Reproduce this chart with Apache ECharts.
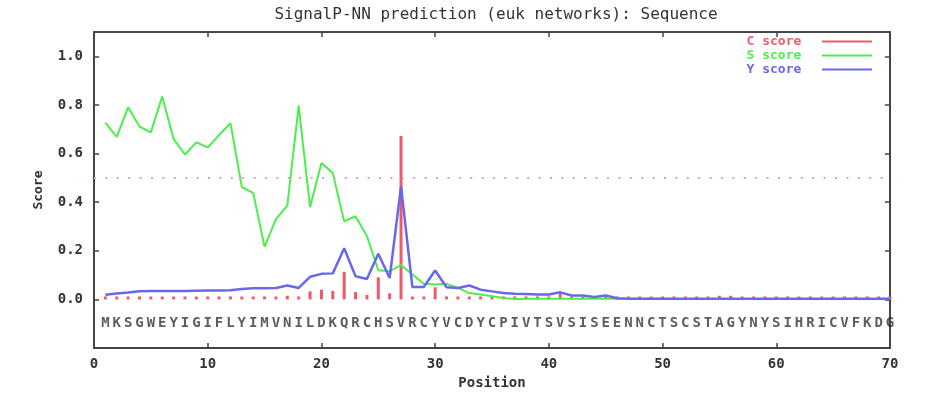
<!DOCTYPE html>
<html>
<head>
<meta charset="utf-8">
<title>SignalP-NN prediction</title>
<script src="https://cdn.jsdelivr.net/npm/echarts@6/dist/echarts.min.js"></script>
<style>
  html, body { margin: 0; padding: 0; background: #fff; }
  #chart { width: 944px; height: 416px; }
</style>
</head>
<body>
<div id="chart"></div>
<script>
// SignalP-NN scores per sequence position
const sequence = 'MKSGWEYIGIFLYIMVNILDKQRCHSVRCYVCDYCPIVTSVSISEENNCTSCSTAGYNYSIHRICVFKDG'.split('');

const cScore = [
  0.012, 0.012, 0.012, 0.012, 0.012, 0.012, 0.012, 0.012, 0.012, 0.012,
  0.012, 0.012, 0.012, 0.012, 0.012, 0.012, 0.015, 0.012, 0.033, 0.04,
  0.035, 0.113, 0.03, 0.018, 0.091, 0.025, 0.672, 0.012, 0.012, 0.05,
  0.012, 0.012, 0.012, 0.012, 0.012, 0.012, 0.012, 0.012, 0.012, 0.012,
  0.026, 0.012, 0.012, 0.012, 0.012, 0.012, 0.012, 0.012, 0.012, 0.012,
  0.012, 0.012, 0.012, 0.012, 0.015, 0.015, 0.012, 0.012, 0.012, 0.012,
  0.012, 0.012, 0.012, 0.012, 0.012, 0.012, 0.012, 0.012, 0.012, 0.012
];

const sScore = [
  0.727, 0.669, 0.79, 0.711, 0.687, 0.835, 0.66, 0.596, 0.646, 0.625,
  0.676, 0.725, 0.462, 0.438, 0.216, 0.33, 0.386, 0.797, 0.379, 0.561,
  0.52, 0.321, 0.342, 0.261, 0.12, 0.116, 0.141, 0.102, 0.064, 0.061,
  0.064, 0.047, 0.026, 0.02, 0.013, 0.006, 0.002, 0.003, 0.003, 0.003,
  0.003, 0.003, 0.003, 0.003, 0.003, 0.003, 0.003, 0.003, 0.003, 0.003,
  0.002, 0.002, 0.002, 0.002, 0.002, 0.002, 0.002, 0.002, 0.002, 0.002,
  0.002, 0.002, 0.002, 0.002, 0.002, 0.002, 0.002, 0.002, 0.002, 0.002
];

const yScore = [
  0.019, 0.024, 0.028, 0.033, 0.034, 0.034, 0.034, 0.034, 0.036, 0.037,
  0.037, 0.038, 0.043, 0.046, 0.046, 0.047, 0.057, 0.047, 0.093, 0.105,
  0.107, 0.21, 0.095, 0.084, 0.188, 0.088, 0.465, 0.051, 0.051, 0.119,
  0.05, 0.047, 0.057, 0.04, 0.033, 0.026, 0.023, 0.022, 0.02, 0.02,
  0.029, 0.016, 0.016, 0.01, 0.016, 0.005, 0.003, 0.003, 0.003, 0.003,
  0.003, 0.003, 0.003, 0.003, 0.003, 0.003, 0.003, 0.003, 0.003, 0.003,
  0.003, 0.003, 0.003, 0.003, 0.003, 0.003, 0.003, 0.003, 0.003, 0.003
];

const threshold = 0.5;
const letterRow = -0.1;

const xTicks = { min: 0, max: 70, interval: 10 };
const yTicks = { min: -0.2, max: 1.1, interval: 0.2 };

const pos = (arr) => arr.map((v, i) => [i + 1, v]);

const mono = 'DejaVu Sans Mono';
const axisColor = '#444';
const textColor = '#333';
const colors = { c: '#ee5a6a', s: '#4cee4c', y: '#6868ec' };

const chart = echarts.init(document.getElementById('chart'));

const baseX = {
  type: 'value',
  min: xTicks.min, max: xTicks.max, interval: xTicks.interval,
  splitLine: { show: false },
  axisLine: { show: true, onZero: false, lineStyle: { color: axisColor, width: 2 } },
  axisTick: { show: true, inside: true, length: 5, lineStyle: { color: axisColor, width: 1.5 } }
};
const baseY = {
  type: 'value',
  min: yTicks.min, max: yTicks.max, interval: yTicks.interval,
  splitLine: { show: false },
  axisLine: { show: true, onZero: false, lineStyle: { color: axisColor, width: 2 } },
  axisTick: { show: true, inside: true, length: 5, lineStyle: { color: axisColor, width: 1.5 } }
};

const option = {
  animation: false,
  backgroundColor: '#fff',
  title: {
    text: 'SignalP-NN prediction (euk networks): Sequence',
    left: 491, top: 2, textAlign: 'center',
    textStyle: { fontFamily: mono, fontSize: 16, fontWeight: 'normal', color: textColor }
  },
  legend: {
    right: 72, top: 35,
    padding: 0,
    orient: 'vertical',
    align: 'right',
    icon: 'rect',
    itemWidth: 50, itemHeight: 2, itemGap: 1,
    formatter: (name) => name + '  ',
    data: [
      { name: 'C score', textStyle: { color: colors.c } },
      { name: 'S score', textStyle: { color: colors.s } },
      { name: 'Y score', textStyle: { color: colors.y } }
    ],
    textStyle: { fontFamily: mono, fontSize: 13, lineHeight: 13, fontWeight: 'bold' }
  },
  grid: { left: 94, right: 54, top: 32, bottom: 68 },
  xAxis: [
    Object.assign({}, baseX, {
      position: 'bottom',
      name: 'Position', nameLocation: 'middle', nameGap: 25,
      nameTextStyle: { fontFamily: mono, fontSize: 14, fontWeight: 'bold', color: textColor },
      axisLabel: { margin: 9, fontFamily: mono, fontSize: 14, fontWeight: 'bold', color: textColor }
    }),
    Object.assign({}, baseX, { position: 'top', axisLabel: { show: false } })
  ],
  yAxis: [
    Object.assign({}, baseY, {
      position: 'left',
      name: 'Score', nameLocation: 'middle', nameGap: 49,
      nameTextStyle: { fontFamily: mono, fontSize: 13, fontWeight: 'bold', color: textColor },
      axisLabel: {
        margin: 11, fontFamily: mono, fontSize: 14, fontWeight: 'bold', color: textColor,
        formatter: (v) => (v < -0.01 || v > 1.05) ? '' : v.toFixed(1)
      }
    }),
    Object.assign({}, baseY, { position: 'right', axisLabel: { show: false } })
  ],
  series: [
    {
      name: 'C score',
      type: 'bar',
      barWidth: 3,
      itemStyle: { color: colors.c },
      data: pos(cScore),
      markLine: {
        silent: true,
        symbol: 'none',
        label: { show: false },
        lineStyle: { color: '#dca0c8', type: [2, 9.4], width: 2 },
        data: [{ yAxis: threshold }]
      }
    },
    {
      name: 'S score',
      type: 'line',
      showSymbol: false,
      lineStyle: { color: colors.s, width: 2 },
      itemStyle: { color: colors.s },
      data: pos(sScore)
    },
    {
      name: 'Y score',
      type: 'line',
      showSymbol: false,
      lineStyle: { color: colors.y, width: 2.5 },
      itemStyle: { color: colors.y },
      data: pos(yScore)
    },
    {
      name: 'sequence',
      type: 'scatter',
      symbolSize: 0,
      silent: true,
      data: sequence.map((ch, i) => [i + 1, letterRow, ch]),
      label: {
        show: true,
        position: 'inside',
        formatter: (p) => p.data[2],
        fontFamily: mono, fontSize: 14, fontWeight: 'bold', color: textColor
      }
    }
  ]
};

chart.setOption(option);
</script>
</body>
</html>
